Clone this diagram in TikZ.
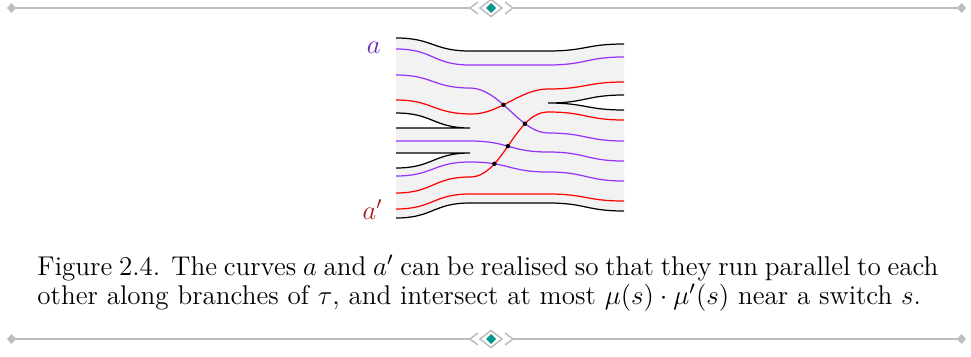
\RequirePackage{fix-cm}
\documentclass[tikz,border=0pt]{standalone}
\usetikzlibrary{intersections}
\definecolor{curvepurple}{RGB}{150,50,250}
\definecolor{curvered}{RGB}{255,0,0}
\definecolor{labelpurple}{RGB}{105,40,185}
\definecolor{labelred}{RGB}{170,25,25}
\definecolor{trackfill}{RGB}{242,242,242}
\definecolor{rulegray}{RGB}{190,190,190}
\definecolor{ornteal}{RGB}{0,150,140}
\begin{document}
\begin{tikzpicture}[x=0.45pt,y=-0.45pt,
  trackline/.style={line width=0.55pt,black},
  pcurve/.style={line width=0.55pt,curvepurple},
  rcurve/.style={line width=0.55pt,curvered},
  crossdot/.style={circle,fill=black,inner sep=0pt,minimum size=2pt},
  rulestyle/.style={line width=0.7pt,rulegray},
  captext/.style={anchor=base west,inner sep=0pt,font=\fontsize{12.2pt}{14pt}\selectfont},
  labtext/.style={anchor=base east,inner sep=0pt,font=\fontsize{12pt}{14pt}\selectfont}]
\useasboundingbox (0,0) rectangle (971,356);

% ---------- ornamental rules ----------
\foreach \yy in {8,339}{
  \draw[rulestyle] (11,\yy) -- (470,\yy);
  \draw[rulestyle] (513,\yy) -- (962,\yy);
  \fill[rulegray] (7,\yy) -- (11.5,\yy-5) -- (16,\yy) -- (11.5,\yy+5) -- cycle;
  \fill[rulegray] (957,\yy) -- (961.5,\yy-5) -- (966,\yy) -- (961.5,\yy+5) -- cycle;
  \draw[rulestyle] (478,\yy-6) -- (470,\yy) -- (478,\yy+6);
  \draw[rulestyle] (505,\yy-6) -- (513,\yy) -- (505,\yy+6);
  \draw[rulestyle] (480,\yy) -- (491,\yy-8.5) -- (502,\yy) -- (491,\yy+8.5) -- cycle;
  \fill[ornteal] (486,\yy) -- (491,\yy-5) -- (496,\yy) -- (491,\yy+5) -- cycle;
}

% ---------- train track neighbourhood ----------
\fill[trackfill] (396,38) .. controls (433,38) and (433,51) .. (470,51) -- (548,51)
  .. controls (586,51) and (586,44) .. (624,44) -- (624,95)
  .. controls (586,95) and (586,103) .. (548,103)
  .. controls (586,103) and (586,110) .. (624,110) -- (624,211)
  .. controls (586,211) and (586,203) .. (548,203) -- (470,203)
  .. controls (433,203) and (433,218) .. (396,218) -- (396,168)
  .. controls (433,168) and (433,153) .. (470,153) -- (396,153) -- (396,128)
  -- (470,128) .. controls (433,128) and (433,113) .. (396,113) -- cycle;

% boundary of the neighbourhood
\draw[trackline] (396,38) .. controls (433,38) and (433,51) .. (470,51) -- (548,51)
  .. controls (586,51) and (586,44) .. (624,44);
\draw[trackline] (396,218) .. controls (433,218) and (433,203) .. (470,203) -- (548,203)
  .. controls (586,203) and (586,211) .. (624,211);
\draw[trackline] (624,95) .. controls (586,95) and (586,103) .. (548,103)
  .. controls (586,103) and (586,110) .. (624,110);
\draw[trackline] (396,113) .. controls (433,113) and (433,128) .. (470,128) -- (396,128);
\draw[trackline] (396,168) .. controls (433,168) and (433,153) .. (470,153) -- (396,153);

% ---------- curves a (purple) ----------
\draw[pcurve] (396,49) .. controls (433,49) and (433,65) .. (470,65) -- (548,65)
  .. controls (586,65) and (586,57) .. (624,57);
\draw[pcurve,name path=pa] (396,75) .. controls (433,75) and (433,88) .. (470,88)
  .. controls (500,88) and (520,133) .. (548,133)
  .. controls (586,133) and (586,141) .. (624,141);
\draw[pcurve,name path=pb] (396,141) -- (470,141)
  .. controls (509,141) and (509,152) .. (548,152)
  .. controls (586,152) and (586,161) .. (624,161);
\draw[pcurve,name path=pc] (396,176) .. controls (433,176) and (433,162) .. (470,162)
  .. controls (509,162) and (509,172) .. (548,172)
  .. controls (586,172) and (586,181) .. (624,181);

% ---------- curves a' (red) ----------
\draw[rcurve,name path=ra] (396,100) .. controls (433,100) and (433,114) .. (472,114)
  .. controls (500,114) and (520,89) .. (548,89)
  .. controls (586,89) and (586,82) .. (624,82);
\draw[rcurve,name path=rb] (396,193) .. controls (433,193) and (433,177) .. (470,177)
  .. controls (503,177) and (515,112) .. (548,112)
  .. controls (586,112) and (586,120) .. (624,120);
\draw[rcurve] (396,209) .. controls (433,209) and (433,194) .. (470,194) -- (548,194)
  .. controls (586,194) and (586,201) .. (624,201);

% ---------- intersection points ----------
\path[name intersections={of=pa and ra,name=i1}];
\path[name intersections={of=pa and rb,name=i2}];
\path[name intersections={of=pb and rb,name=i3}];
\path[name intersections={of=pc and rb,name=i4}];
\node[crossdot] (x1) at (i1-1) {};
\node[crossdot] (x2) at (i2-1) {};
\node[crossdot] (x3) at (i3-1) {};
\node[crossdot] (x4) at (i4-1) {};

% ---------- labels ----------
\node[labtext,text=labelpurple] (lab-a) at (381,53) {$a$};
\node[labtext,text=labelred] (lab-ap) at (383,219) {$a'$};

% ---------- caption ----------
\node[captext] (cap1) at (37,275.5) {\makebox[405.45pt][s]{Figure 2.4.\hspace{5pt}The curves $a$ and $a'$ can be realised so that they run parallel to each}};
\node[captext] (cap2) at (37,304) {other along branches of $\tau$, and intersect at most $\mu(s)\cdot\mu'(s)$ near a switch $s$.};
\end{tikzpicture}
\end{document}
